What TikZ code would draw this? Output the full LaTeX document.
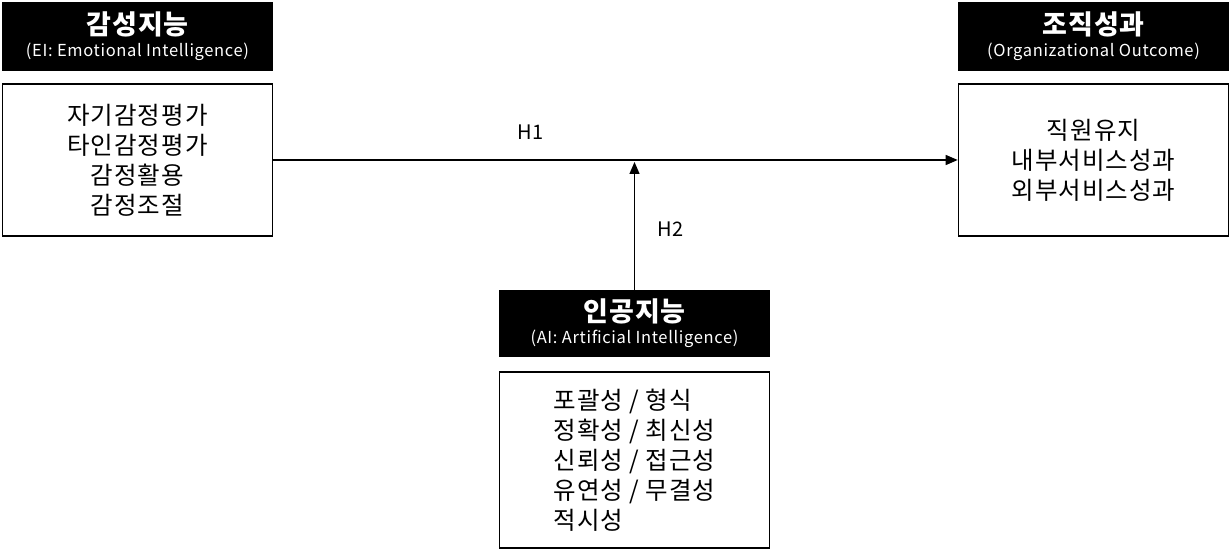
\documentclass[tikz,border=0pt]{standalone}
\usepackage{fontspec}
\setmainfont{Noto Sans CJK KR}[LetterSpace=4]
\usepackage{tikz}
\usetikzlibrary{arrows.meta, positioning}
\definecolor{mydark}{RGB}{0,0,0}
\tikzset{
  hdrblock/.style={rectangle, fill=black, text=white,
    minimum width=271pt, minimum height=69pt, inner sep=0pt,
    align=center},
  bodyblock/.style={rectangle, draw=black, fill=white,
    minimum width=270pt, line width=1.6pt, inner sep=0pt,
    align=center, font=\fontsize{24.5}{30}\selectfont},
  arrow/.style={-{Triangle[length=12pt, width=10pt]}, line width=1.3pt, color=mydark},
  hlabel/.style={font=\fontsize{20}{24}\selectfont, inner sep=0pt}
}
\newcommand{\hdrtext}[2]{{\fontsize{27}{28}\selectfont\bfseries #1}\\[5pt]{\fontsize{16.5}{18}\selectfont #2}}

\begin{document}
\begin{tikzpicture}[x=1pt, y=-1pt]
  \useasboundingbox (0,0) rectangle (1231,553);

  % Left: EI
  \node[hdrblock] (eiHdr) at (137.5,36.5) {\hdrtext{감성지능}{(EI: Emotional Intelligence)}};
  \node[bodyblock, minimum height=152pt, below=12pt of eiHdr] (eiBody) {자기감정평가\\타인감정평가\\감정활용\\감정조절};

  % Right: outcome
  \node[hdrblock] (ooHdr) at (1093.5,36.5) {\hdrtext{조직성과}{(Organizational Outcome)}};
  \node[bodyblock, minimum height=152pt, below=12pt of ooHdr] (ooBody) {직원유지\\내부서비스성과\\외부서비스성과};

  % Middle: AI
  \node[hdrblock, minimum height=67pt] (aiHdr) at (634.5,323.5) {\hdrtext{인공지능}{(AI: Artificial Intelligence)}};
  \node[bodyblock, minimum height=176pt, below=14pt of aiHdr, align=left] (aiBody) {포괄성 / 형식\\정확성 / 최신성\\신뢰성 / 접근성\\유연성 / 무결성\\적시성};

  % Connective paths
  \draw[arrow] (eiBody.east) -- node[hlabel, pos=0.376, above=20pt] (h1) {H1} (ooBody.west);
  \draw[arrow, shorten >=2pt] (aiHdr.north) -- node[hlabel, pos=0.47, right=22pt] (h2) {H2} (aiHdr.north |- eiBody.east);
\end{tikzpicture}
\end{document}
